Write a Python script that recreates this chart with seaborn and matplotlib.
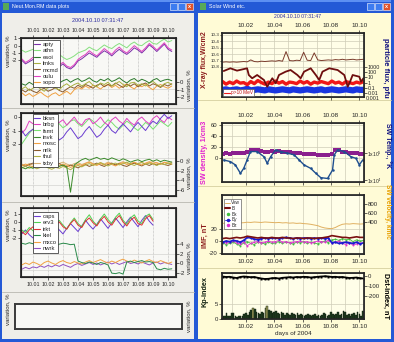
import numpy as np
import matplotlib
matplotlib.use("Agg")
import matplotlib.pyplot as plt
import matplotlib.transforms as mtrans
from matplotlib import font_manager
from matplotlib.patches import Rectangle
from matplotlib.lines import Line2D
from matplotlib.ticker import MultipleLocator
import seaborn as sns

# ====================== DATA ======================
days_left = np.linspace(0.25, 10.25, 41)     # sample times, day of Oct 2004
days_right = np.linspace(0.35, 10.30, 41)

# ---- neutron monitors, panel 1 ----
p1_names = ["apty", "athn", "esoi", "lmks", "mcmd", "oulu", "sopo"]
apty = [-2.0,-2.5,-2.2,-1.9,-2.1,-2.4,-2.0,-1.8,-2.2,-2.7,-2.9,-2.5,-3.0,-3.2,-2.8,-2.1,-1.8,-1.4,-1.0,-1.3,-1.6,-1.1,-0.7,-1.0,-1.4,-0.9,-0.5,-0.9,-1.2,-0.8,-0.3,-0.6,-1.0,-0.5,0.1,-0.3,-0.8,-0.3,0.2,-0.5,-0.8]
athn = [-0.6,-0.9,-0.7,-0.5,-0.8,-1.0,-0.7,-0.9,-1.3,-1.5,-1.2,-1.6,-1.9,-1.7,-1.4,-1.0,-0.8,-0.6,-0.2,-0.5,-0.7,-0.3,0.1,-0.2,-0.4,0.0,0.3,0.0,-0.3,0.2,0.5,0.1,0.0,0.4,0.7,0.3,0.2,0.6,0.9,0.5,0.7]
oulu = [-1.8,-2.3,-2.0,-1.6,-1.9,-2.2,-1.7,-1.5,-2.0,-2.4,-2.6,-2.3,-2.8,-3.0,-2.6,-1.9,-1.5,-1.2,-0.7,-1.1,-1.4,-0.9,-0.4,-0.8,-1.2,-0.6,-0.2,-0.7,-1.0,-0.5,0.0,-0.4,-0.8,-0.3,0.3,-0.1,-0.6,-0.1,0.4,-0.3,-0.6]
esoi = [-0.2,-0.4,0.0,-0.3,-0.1,0.2,-0.2,0.0,0.3,0.1,-0.1,0.2,0.4,0.0,0.3,0.5,0.1,0.3,0.6,0.2,0.0,0.4,0.2,0.5,0.1,0.3,0.6,0.2,-0.1,0.3,0.5,0.1,0.4,0.2,-0.1,0.3,0.5,0.1,0.3,0.4,0.2]
lmks = [-0.9,-0.6,-1.1,-0.8,-0.5,-0.9,-1.2,-0.7,-0.4,-0.8,-1.0,-0.5,-0.2,-0.6,-0.3,-0.1,-0.5,-0.2,0.1,-0.4,-0.6,-0.1,-0.3,0.0,-0.5,-0.2,0.1,-0.3,-0.6,-0.1,0.0,-0.4,-0.2,-0.5,-0.1,0.1,-0.3,-0.6,-0.2,0.0,-0.3]
sopo = [-1.4,-1.8,-1.5,-1.9,-1.6,-1.3,-1.7,-2.0,-1.6,-1.4,-1.8,-1.5,-1.2,-1.6,-1.0,-0.7,-0.9,-0.5,-0.8,-0.4,-0.6,-0.9,-0.5,-0.3,-0.7,-0.4,-0.8,-0.5,-0.2,-0.6,-0.9,-0.4,-0.6,-0.3,-0.7,-1.0,-0.5,-0.3,-0.6,-0.8,-0.5]
mcmd = [-1.0,-1.3,-0.9,-1.2,-1.4,-1.0,-0.8,-1.2,-1.0,-0.7,-1.1,-1.3,-0.9,-0.6,-0.8,-0.4,-0.7,-0.3,-0.5,-0.8,-0.4,-0.2,-0.6,-0.3,-0.5,-0.1,-0.4,-0.7,-0.3,-0.5,-0.2,-0.6,-0.3,-0.1,-0.5,-0.2,-0.4,-0.7,-0.3,-0.5,-0.2]

# ---- panel 2 ----
p2_names = ["bksn", "brbg", "fsmt", "invk", "mosc", "nrlk", "thul", "txby"]
bksn = [-1.0,-1.4,-1.1,-0.9,-1.3,-1.6,-1.8,-1.4,-1.0,-1.3,-1.7,-1.5,-1.1,-0.8,-1.2,-1.6,-1.4,-1.0,-0.7,-1.1,-1.5,-1.3,-0.9,-0.6,-1.0,-1.2,-0.8,-0.5,-0.8,-1.1,-0.7,-0.4,-0.7,-1.0,-0.6,-0.3,-0.5,-0.1,0.2,-0.1,0.1]
brbg = [-1.2,-0.9,-0.3,-0.5,-0.2,-0.4,-0.7,-0.3,-0.1,-0.5,-0.4,-0.2,-0.6,-0.3,0.0,-0.4,-0.6,-0.2,-0.1,-0.5,-0.3,0.0,-0.4,-0.6,-0.2,0.0,-0.3,-0.5,-0.1,-0.4,-0.6,-0.2,0.0,-0.3,-0.5,-0.1,0.1,-0.2,-0.4,0.0,-0.2]
fsmt = [-2.0,-1.6,-1.2,-0.9,-1.1,-0.7,-0.5,-0.8,-0.6,-0.3,-0.5,-0.8,-0.6,-0.3,-0.2,-0.5,-0.7,-0.4,-0.1,-0.3,-0.6,-0.8,-0.5,-0.2,-0.4,-0.7,-0.9,-0.6,-0.3,-0.5,-0.8,-1.0,-0.7,-0.4,-0.6,-0.9,-0.6,-0.3,-0.5,-0.7,-0.4]
invk = [-1.3,-1.6,-1.2,-1.5,-1.0,-0.6,-0.9,-1.3,-1.0,-0.7,-1.1,-0.8,-1.2,-6.5,-0.8,-0.2,0.3,0.6,0.2,0.5,0.8,0.4,0.6,0.3,0.7,0.4,0.1,0.5,0.2,-0.2,0.1,0.3,-0.1,0.2,0.4,0.0,0.3,-0.1,0.2,0.0,-0.2]
mosc = [-1.0,-0.6,-0.9,-1.2,-0.8,-0.5,-0.9,-0.6,-0.3,-0.7,-1.0,-0.6,-0.9,-1.3,-1.0,-0.6,-0.9,-0.5,-0.2,-0.6,-0.9,-0.5,-0.8,-0.4,-0.7,-1.0,-0.6,-0.3,-0.7,-0.5,-0.2,-0.6,-0.8,-0.4,-0.1,-0.5,-0.3,-0.6,-0.2,-0.4,-0.6]
nrlk = [-0.8,-1.1,-0.7,-0.4,-0.8,-1.1,-0.7,-1.0,-1.3,-0.9,-0.5,-0.9,-1.2,-0.8,-1.1,-1.4,-1.0,-0.7,-1.1,-0.8,-0.4,-0.8,-1.1,-0.7,-0.4,-0.8,-0.5,-0.9,-1.1,-0.7,-0.4,-0.7,-1.0,-0.6,-0.9,-0.5,-0.8,-0.4,-0.7,-0.9,-0.6]
thul = [-1.4,-1.1,-1.5,-1.2,-1.6,-1.3,-1.0,-1.4,-1.7,-1.3,-1.5,-1.1,-1.4,-1.8,-1.2,-0.9,-1.2,-0.8,-0.5,-0.9,-0.6,-0.3,-0.7,-1.0,-0.6,-0.4,-0.8,-0.5,-0.2,-0.6,-0.9,-0.5,-0.3,-0.7,-0.4,-0.6,-0.9,-0.5,-0.7,-0.4,-0.6]
txby = [-0.6,-0.9,-0.5,-0.8,-1.1,-0.7,-0.4,-0.8,-0.6,-0.9,-0.5,-0.2,-0.6,-0.9,-0.5,-0.3,-0.7,-0.4,-0.1,-0.5,-0.7,-0.3,-0.6,-0.2,-0.5,-0.8,-0.4,-0.1,-0.4,-0.7,-0.3,-0.5,-0.2,-0.6,-0.3,-0.1,-0.4,-0.7,-0.3,-0.5,-0.2]

# ---- panel 3 ----
p3_names = ["caps", "erv3", "irkt", "kiel", "mxco", "nwrk"]
caps = [-1.5,-1.0,-1.6,-2.0,-1.3,-0.8,-1.4,-1.8,-1.1,-0.5,-1.0,-1.5,-0.8,-0.2,-0.7,-1.2,-0.5,0.2,-0.4,-0.9,-0.3,0.4,-0.2,-0.8,-0.1,0.5,-0.1,-0.7,0.0,0.6,0.0,-0.6,0.2,0.8,0.1,-0.4]
erv3 = [-1.0,-1.3,-0.7,-1.1,-1.5,-0.6,-0.2,-0.8,-1.1,-0.3,0.2,-0.4,-0.9,-0.1,0.5,-0.2,-0.6,0.3,0.9,0.1,-0.4,0.4,1.0,0.3,-0.2,0.6,1.1,0.2,-0.3,0.5,0.9,0.1,-0.2,0.7,1.0,0.3]
irkt = [-1.2,-1.6,-1.0,-0.6,-1.3,-1.1,-0.5,-0.9,-1.2,-0.4,0.0,-0.6,-0.9,-0.2,0.3,-0.4,-0.7,0.1,0.5,-0.1,-0.5,0.2,0.7,0.0,-0.4,0.3,0.8,0.0,-0.5,0.2,0.6,-0.2,-0.4,0.4,0.8,0.1]
kiel = [4.2,4.0,4.3,4.1,3.9,4.2,4.0,4.4,4.1,3.8,4.0,4.2,4.1,3.9,4.0,0.5,0.2,0.0,0.3,0.1,-0.2,0.2,0.0,-0.3,-2.0,-2.1,-1.9,-2.2,0.3,0.5,0.2,0.4,0.6,0.3,0.4,0.2,-1.1,-1.3,-1.0,-1.2,-1.1]
mxco = [-0.3,0.1,-0.2,0.3,0.0,-0.4,0.2,0.5,0.1,-0.2,0.3,0.6,0.2,0.0,0.4,0.1,-0.1,0.3,0.6,0.2,0.5,0.8,0.4,0.1,0.5,0.2,0.6,0.9,0.5,0.3,0.7,0.4,0.1,0.5,0.8,0.4,0.2,0.6,0.3,0.0,0.3]
nwrk = [-1.2,-0.8,-1.1,-0.7,-0.9,-0.5,-0.8,-0.4,-0.7,-0.3,-0.6,-0.2,-0.5,-0.8,-0.3,0.0,-0.4,-0.1,0.2,-0.2,0.1,-0.3,0.0,0.3,-0.1,0.2,-0.2,0.1,0.4,0.0,0.2,-0.1,0.3,0.0,-0.3,0.1,0.3,-0.1,0.2,0.0,-0.2]

# ---- solar wind window ----
xray_log = [-7.25,-7.2,-7.25,-7.2,-7.25,-7.2,-7.15,-7.2,-6.9,-7.15,-7.2,-7.1,-7.15,-7.1,-7.05,-7.1,-7.0,-7.1,-5.6,-7.0,-7.05,-6.95,-7.0,-5.7,-6.95,-7.0,-5.8,-6.9,-7.0,-6.95,-6.9,-6.95,-6.85,-6.9,-6.8,-6.9,-6.85,-6.8,-6.9,-6.85,-6.8]
e_days = [0.43,0.90,1.37,2.08,2.20,2.44,2.79,3.27,3.50,3.86,4.10,4.33,4.80,5.15,5.63,5.86,6.10,6.57,6.93,7.17,7.40,7.88,8.47,8.94,9.18,9.30,9.53,10.00,10.12,10.29]
e_log = [2.23,2.75,2.30,2.75,1.46,0.83,1.46,0.50,-0.79,0.83,-0.13,1.46,2.10,2.42,1.46,0.83,2.10,2.75,1.46,0.50,2.10,2.75,2.42,1.46,-0.79,-0.13,1.46,1.13,0.17,0.83]
p10_log = [0.2,-0.3,0.1,-0.2,0.3,-0.1,0.0,-0.4,0.2,-0.2,0.4,0.0,-0.3,0.1,-0.2,0.3,-0.1,0.2,-0.3,0.1,0.0,-0.2,0.3,-0.1,0.2,-0.3,0.1,-0.1,0.2,0.0,-0.2,0.3,-0.1,0.1,-0.3,0.2,0.0,-0.2,0.1,-0.1,0.2]
p100_log = [-1.4,-1.3,-1.5,-1.4,-1.3,-1.5,-1.4,-1.2,-1.5,-1.4,-1.3,-1.4,-1.5,-1.3,-1.4,-1.5,-1.4,-1.3,-1.4,-1.5,-1.3,-1.4,-1.5,-1.4,-1.3,-1.4,-1.5,-1.4,-1.3,-1.5,-1.4,-1.3,-1.4,-1.5,-1.4,-1.3,-1.4,-1.5,-1.3,-1.4,-1.4]

density = [8,9,8,9,10,9,10,11,14,15,14,13,12,12,13,12,13,12,11,11,10,10,9,8,8,7,7,6,6,5,6,7,15,14,12,11,10,9,9,8,7]
temp_days = [0.43,0.90,1.25,1.61,1.85,2.08,2.32,2.79,3.27,3.50,3.74,4.09,4.45,4.92,5.40,5.75,6.10,6.57,6.93,7.28,7.76,8.11,8.23,8.47,8.94,9.41,9.76,10.00,10.24]
temp_log = [4.74,4.68,4.56,4.25,4.44,4.74,5.05,5.05,4.86,4.62,4.86,5.11,5.05,4.99,4.93,4.74,4.56,4.43,4.25,4.09,4.06,4.37,4.93,5.11,5.05,4.86,4.80,4.56,4.74]

vsw = [380,390,385,395,400,390,395,405,400,410,405,400,410,405,400,395,400,390,395,385,390,380,385,375,370,360,345,330,300,280,270,265,290,330,360,370,365,375,370,365,370]
b_tot = [4,5,4,5,6,5,6,8,7,6,5,6,5,5,6,5,5,6,5,5,4,5,5,4,5,5,4,5,5,6,7,9,8,7,6,6,5,6,7,6,6]
bx = [-3,-6,-4,-2,-5,-8,-3,-1,-4,-6,-2,-3,-5,-2,-4,-3,-1,-4,-2,-3,-5,-2,-3,-1,-4,-2,-3,-5,-2,0,-3,2,3,1,4,2,3,-1,2,0,1]
by = [-2,0,-1,1,0,-2,1,6,5,3,2,4,5,4,5,5,4,5,6,5,4,5,4,5,5,4,5,4,5,4,5,-3,-2,-4,-3,-2,-3,-4,-2,-5,-3]
bz = [-1,-3,-2,0,-3,-5,-2,-8,-4,-2,-1,-3,-2,0,-2,-1,1,-2,-1,-3,-2,-1,0,-2,-1,-3,-2,0,-1,-2,1,-3,-2,0,-4,-6,-3,-7,-5,-3,-4]

dst = [-5,-10,-8,-15,-20,-10,-5,-8,-12,-10,-18,-25,-30,-28,-22,-20,-25,-18,-15,-12,-15,-10,-12,-8,-10,-15,-12,-8,-5,-3,-5,-10,-8,-12,-10,-15,-20,-18,-15,-22,-25]
kp = [1,1,2,1,1,2,2,1,
      0.7,1,1,1,1.7,2,1.3,2.3,
      3,3.7,3.3,2.3,2,1.7,2.3,2,
      3.7,4.3,3,2.7,2,2.3,2.7,2,
      1.7,2.3,2,1.3,2,1.7,1.3,2,
      1.7,1.3,2,1.3,1.7,1.3,1,1.3,
      1.7,1.3,1,1.3,1.7,1,1.3,1,
      1.3,2,1.7,1,1.3,2.3,1.7,1.3,
      1.7,2.3,1.3,1.7,2.7,2.3,1.3,1.7,
      1,1.7,2,1.3,2.3,1.7,1,2.7]
kp_days = 0.375 + 0.125 * np.arange(len(kp))

day_labels = [f"10.{d:02d}" for d in range(1, 11)]

# ====================== STYLE ======================
sns.set_theme(style="ticks")
avail = {f.name for f in font_manager.fontManager.ttflist}
FONT = "Liberation Sans Narrow" if "Liberation Sans Narrow" in avail else "Liberation Sans"
plt.rcParams["font.family"] = [FONT, "DejaVu Sans"]
plt.rcParams["axes.unicode_minus"] = False

W, H = 394, 342
LEFT_BG = "#efeee9"
RIGHT_BG = "#fffbd6"
FS = 4.3
FSX = 3.8

fig = plt.figure(figsize=(W / 100, H / 100), dpi=100)
fig.patch.set_facecolor(LEFT_BG)


def fx(x):
    return x / W


def fy(y):
    return 1 - y / H


def prect(x0, y0, x1, y1, color, z=-5, ec="none", lw=0):
    fig.add_artist(Rectangle((fx(x0), fy(y1)), (x1 - x0) / W, (y1 - y0) / H,
                             transform=fig.transFigure, facecolor=color,
                             edgecolor=ec, linewidth=lw, zorder=z))


def pline(x0, y0, x1, y1, color, lw=0.6, z=-4):
    fig.add_artist(Line2D([fx(x0), fx(x1)], [fy(y0), fy(y1)],
                          transform=fig.transFigure, color=color, lw=lw, zorder=z))


def ptext(x, y, s, **kw):
    kw.setdefault("ha", "center")
    kw.setdefault("va", "center")
    fig.text(fx(x), fy(y), s, **kw)


def pax(x0, y0, x1, y1):
    return fig.add_axes([fx(x0), fy(y1), (x1 - x0) / W, (y1 - y0) / H])


def line(ax, x, y, color, lw=0.7, **kw):
    n = min(len(x), len(y))
    sns.lineplot(x=np.asarray(x, float)[:n], y=np.asarray(y, float)[:n], ax=ax,
                 color=color, linewidth=lw, errorbar=None, legend=False, **kw)


def fmt(v):
    return str(int(v)) if float(v).is_integer() else str(v)


# ---------------- window chrome ----------------
prect(197, 0, W, H, RIGHT_BG, z=-6)
for (a, b) in [(0, 196), (197, W)]:
    prect(a, 0, b, 13, "#2459d6")
    prect(a, 0, b, 2, "#5d8ff2")
prect(0, 0, 2, H, "#2459d6")
prect(194, 0, 198, H, "#2459d6")
prect(391, 0, W, H, "#2459d6")
prect(0, 339, W, H, "#2459d6")
prect(3, 3, 9, 10, "#58a858", z=-3)
prect(200, 3, 206, 10, "#58a858", z=-3)
for x0 in (170, 178, 367, 375):
    prect(x0, 3, x0 + 7, 10, "#3d7cf0", z=-3, ec="white", lw=0.4)
for x0 in (186, 383):
    prect(x0, 3, x0 + 7, 10, "#e0522a", z=-3, ec="white", lw=0.4)
    ptext(x0 + 3.5, 6.3, "x", color="white", fontsize=4, fontweight="bold")
ptext(12, 6.8, "Neut.Mon.RM data plots", color="white", fontsize=3.8, ha="left")
ptext(209, 6.8, "Solar Wind etc.", color="white", fontsize=3.8, ha="left")
for y in (108, 202, 292):
    pline(2, y, 194, y, "#b9b8b0")
for y in (100, 186, 268):
    pline(198, y, 391, y, "#d6cfa0")

ptext(98, 21, "2004.10.10 07:31:47", color="#2a2aa0", fontsize=4.0)
ptext(298, 16, "2004.10.10 07:31:47", color="#2a2aa0", fontsize=3.7)


# ---------------- left (neutron monitor) panels ----------------
def left_panel(box, lim_l, ticks_l, lim_r, ticks_r, grid_step, top=False, bottom=False):
    ax = pax(*box)
    ax.set_facecolor("#f8f8f5")
    ax.set_xlim(0.2, 10.53)
    ax.set_xticks(range(1, 11))
    ax.set_xticklabels(day_labels)
    ax.set_ylim(*lim_l)
    ax.set_yticks(ticks_l)
    ax.set_yticklabels([fmt(v) for v in ticks_l])
    ax.yaxis.set_minor_locator(MultipleLocator(grid_step))
    ax.tick_params(axis="x", top=True, bottom=True, labeltop=top, labelbottom=bottom,
                   length=2, width=0.5, pad=1.5, labelsize=FSX, direction="out")
    ax.tick_params(axis="y", length=2, width=0.5, pad=1, labelsize=FS)
    ax.tick_params(which="minor", length=0)
    ax.grid(True, axis="x", color="#b0b0b0", lw=0.5, ls=(0, (1, 1)))
    ax.grid(True, axis="y", which="minor", color="#d4d4d0", lw=0.5)
    for s in ax.spines.values():
        s.set_visible(True)
        s.set_color("#1a1a1a")
        s.set_linewidth(0.8)
    tw = ax.twinx()
    tw.set_ylim(*lim_r)
    tw.set_yticks(ticks_r)
    tw.set_yticklabels([fmt(v) for v in ticks_r])
    tw.tick_params(axis="y", length=2, width=0.5, pad=1, labelsize=FS)
    tw.grid(False)
    return ax, tw


def left_legend(tw, names, colors, top_frac):
    handles = [Line2D([], [], color=c, lw=0.8) for c in colors]
    leg = tw.legend(handles, names, loc="upper left", bbox_to_anchor=(0.075, top_frac),
                    fontsize=4.2, frameon=True, fancybox=False, edgecolor="#202020",
                    handlelength=1.0, handletextpad=0.4, borderpad=0.3,
                    labelspacing=0.23, borderaxespad=0)
    leg.get_frame().set_linewidth(0.5)
    leg.get_frame().set_facecolor("white")
    leg.get_frame().set_alpha(1)


# panel 1
ax1, tw1 = left_panel((21, 38, 176, 104), (-8.0, 1.05), [1, 0, -1, -2],
                      (-2.9, 5.9), [0, -1, -2], 2, top=True)
c1 = {"apty": "#7a2fa8", "athn": "#86e07e", "esoi": "#2c7a2c", "lmks": "#a8b040",
      "mcmd": "#8a5a2a", "oulu": "#e040c0", "sopo": "#f0a040"}
line(ax1, days_left, athn, c1["athn"])
line(ax1, days_left, apty, c1["apty"])
line(ax1, days_left, oulu, c1["oulu"])
line(tw1, days_left, sopo, c1["sopo"])
line(tw1, days_left, mcmd, c1["mcmd"])
line(tw1, days_left, lmks, c1["lmks"])
line(tw1, days_left, esoi, c1["esoi"])
left_legend(tw1, p1_names, [c1[n] for n in p1_names], 0.97)

# panel 2
ax2, tw2 = left_panel((21, 113, 176, 196), (-5.85, 0.3), [0, -1, -2],
                      (-7.3, 10.1), [0, -2, -4, -6], 1)
c2 = {"bksn": "#6a3cd0", "brbg": "#e040c0", "fsmt": "#78e070", "invk": "#3a8a2a",
      "mosc": "#f0a040", "nrlk": "#8a5a2a", "thul": "#b0b040", "txby": "#d8b070"}
line(ax2, days_left, fsmt, c2["fsmt"])
line(ax2, days_left, brbg, c2["brbg"])
line(ax2, days_left, bksn, c2["bksn"])
line(tw2, days_left, txby, c2["txby"])
line(tw2, days_left, nrlk, c2["nrlk"])
line(tw2, days_left, mosc, c2["mosc"])
line(tw2, days_left, thul, c2["thul"])
line(tw2, days_left, invk, c2["invk"])
left_legend(tw2, p2_names, [c2[n] for n in p2_names], 0.99)

# panel 3
ax3, tw3 = left_panel((21, 208, 176, 277), (-6.9, 1.75), [1, 0, -1, -2],
                      (-2.8, 11.5), [4, 2, 0, -2], 2, bottom=True)
c3 = {"caps": "#6a3cd0", "erv3": "#50d050", "irkt": "#e03030", "kiel": "#2a8a4a",
      "mxco": "#f0a040", "nwrk": "#9050c0"}
line(ax3, days_left, caps, c3["caps"])
line(ax3, days_left, erv3, c3["erv3"])
line(ax3, days_left, irkt, c3["irkt"])
line(tw3, days_left, nwrk, c3["nwrk"])
line(tw3, days_left, mxco, c3["mxco"])
line(tw3, days_left, kiel, c3["kiel"])
left_legend(tw3, p3_names, [c3[n] for n in p3_names], 0.94)

# panel 4 (empty)
ax4 = pax(15, 304, 182, 329)
ax4.set_facecolor("#f8f8f5")
ax4.set_xticks([])
ax4.set_yticks([])
for s in ax4.spines.values():
    s.set_visible(True)
    s.set_color("#3a3a3a")
    s.set_linewidth(1.4)

for yl, yr in [(51, 85), (135, 173), (225, 258), (309, 316)]:
    ptext(8, yl, "variation, %", rotation=90, fontsize=4.3)
    ptext(189, yr, "variation, %", rotation=90, fontsize=4.3)


# ---------------- right (solar wind) panels ----------------
def right_panel(box, top=False, bottom=False):
    ax = pax(*box)
    ax.set_facecolor("#fffee8")
    ax.set_xlim(0.31, 10.33)
    ax.set_xticks([2, 4, 6, 8, 10])
    ax.set_xticklabels([day_labels[i - 1] for i in (2, 4, 6, 8, 10)])
    ax.set_xticks(range(1, 11), minor=True)
    ax.tick_params(axis="x", which="major", top=True, bottom=True, labeltop=top,
                   labelbottom=bottom, length=2, width=0.5, pad=1.5, labelsize=4.6)
    ax.tick_params(axis="x", which="minor", length=0)
    ax.tick_params(axis="y", length=2, width=0.5, pad=1, labelsize=FS)
    ax.grid(True, axis="x", which="both", color="#cfcdb8", lw=0.5)
    ax.grid(True, axis="y", color="#cfcdb8", lw=0.5)
    for s in ax.spines.values():
        s.set_visible(True)
        s.set_color("#707070")
        s.set_linewidth(0.6)
    tw = ax.twinx()
    tw.grid(False)
    tw.tick_params(axis="y", length=2, width=0.5, pad=1, labelsize=FS)
    return ax, tw


# A: X-ray / particle flux
axA, twA = right_panel((222, 33, 364, 97), top=True)
axA.set_ylim(-12.7, -2.69)
axA.set_yticks([-3, -4, -5, -6, -7, -8])
axA.set_yticklabels([f"10{v}" for v in (-3, -4, -5, -6, -7, -8)])
axA.tick_params(axis="y", labelsize=3.2, pad=0.5, length=1.5)
twA.set_ylim(-2.77, 9.54)
twA.set_yticks([3, 2, 1, 0, -1, -2])
twA.set_yticklabels(["1000", "100", "10", "1", "0.1", "0.01"])
twA.tick_params(axis="y", labelsize=3.9, pad=0.5)
twA.text(1.012, -3.0, "0.001", transform=mtrans.blended_transform_factory(twA.transAxes, twA.transData),
         fontsize=3.9, va="center", ha="left", clip_on=False, color="#262626")
line(axA, days_right, xray_log, "#7a3b2b", lw=0.7)
line(twA, days_right, p100_log, "#1a36e0", lw=4.5)
line(twA, days_right, p10_log, "#f01818", lw=2.4)
line(twA, e_days, e_log, "#6e0e0e", lw=1.3)
legA = twA.legend([Line2D([], [], color="#f01818", lw=0.8)], ["p>10 MeV"], loc="lower left",
                  bbox_to_anchor=(0.01, 0.01), fontsize=3.4, frameon=True, fancybox=False,
                  edgecolor="#404040", handlelength=1.2, handletextpad=0.3, borderpad=0.2,
                  borderaxespad=0)
legA.get_frame().set_linewidth(0.4)
legA.get_frame().set_alpha(1)
for t in legA.get_texts():
    t.set_color("#c01010")

# B: density / temperature
axB, twB = right_panel((222, 123, 364, 182), top=True)
axB.set_ylim(-43.6, 64)
axB.set_yticks([0, 20, 40, 60])
twB.set_ylim(3.93, 6.1)
twB.set_yticks([5, 4])
twB.set_yticklabels(["1x10$^5$", "1x10$^4$"])
twB.tick_params(axis="y", labelsize=3.6, pad=0.5)
line(axB, days_right, density, "#8a1f8e", lw=0.8, marker="s", markersize=2.2,
     markeredgewidth=0)
line(twB, temp_days, temp_log, "#1f4f8f", lw=1.0, marker="o", markersize=1.8,
     markeredgewidth=0)

# C: IMF / velocity
axC, twC = right_panel((222, 195, 364, 254), bottom=True)
axC.set_ylim(-21.7, 76.7)
axC.set_yticks([20, 0, -20])
twC.set_ylim(-289, 1000)
twC.set_yticks([800, 600, 400])
line(axC, days_right, bx, "#40c040", lw=0.6, marker="o", markersize=1.4, markeredgewidth=0)
line(axC, days_right, bz, "#e030d0", lw=0.6, marker="o", markersize=1.4, markeredgewidth=0)
line(axC, days_right, by, "#1a1ad0", lw=1.2, marker="o", markersize=1.6, markeredgewidth=0)
line(axC, days_right, b_tot, "#7a1010", lw=1.2)
line(twC, days_right, vsw, "#e0b060", lw=0.7)
hC = [Line2D([], [], color="#e0b060", lw=0.7),
      Line2D([], [], color="#7a1010", lw=1.5),
      Line2D([], [], color="#40c040", marker="o", ms=1.5, lw=0),
      Line2D([], [], color="#1a1ad0", marker="o", ms=1.5, lw=0.6),
      Line2D([], [], color="#e030d0", marker="o", ms=1.5, lw=0)]
legC = twC.legend(hC, ["Vsw", "B", "Bx", "By", "Bz"], loc="upper left",
                  bbox_to_anchor=(0.014, 0.93), fontsize=3.4, frameon=True, fancybox=False,
                  edgecolor="#404040", handlelength=1.0, handletextpad=0.3, borderpad=0.25,
                  labelspacing=0.15, borderaxespad=0)
legC.get_frame().set_linewidth(0.4)
legC.get_frame().set_alpha(1)

# D: Kp / Dst
axD, twD = right_panel((222, 273, 364, 319), bottom=True)
axD.set_ylim(0, 15.3)
axD.set_yticks([0, 5])
twD.set_ylim(-430, 30)
twD.set_yticks([0, -100, -200])
kp_colors = ["#9a9a58" if v >= 3.5 else "#1e3a1e" for v in kp]
axD.bar(kp_days, kp, width=0.115, color=kp_colors, edgecolor="#102010", linewidth=0.3)
line(twD, days_right, dst, "black", lw=1.3, marker="s", markersize=1.4, markeredgewidth=0)

ptext(204, 60, "X-ray flux,W/cm2", rotation=90, color="#8b1a1a", fontsize=5.0, fontweight="bold")
ptext(386, 68, "particle flux, pfu", rotation=-90, color="#101080", fontsize=5.6, fontweight="bold")
ptext(205, 152, "SW density, 1/cm3", rotation=90, color="#e020d0", fontsize=5.2, fontweight="bold")
ptext(388, 146, "SW Temp., °K", rotation=-90, color="#101080", fontsize=5.0, fontweight="bold")
ptext(205, 236, "IMF, nT", rotation=90, color="#8b1a1a", fontsize=5.2, fontweight="bold")
ptext(387, 211, "SW velocity, km/c", rotation=-90, color="#e8a000", fontsize=4.7, fontweight="bold")
ptext(205, 292, "Kp-index", rotation=90, color="#102010", fontsize=5.2, fontweight="bold")
ptext(386, 296, "Dst-index, nT", rotation=-90, color="black", fontsize=5.2, fontweight="bold")
ptext(293, 334, "days of 2004", fontsize=4.6, color="#262626")

fig.savefig("out.png", dpi=100, facecolor=fig.get_facecolor())
